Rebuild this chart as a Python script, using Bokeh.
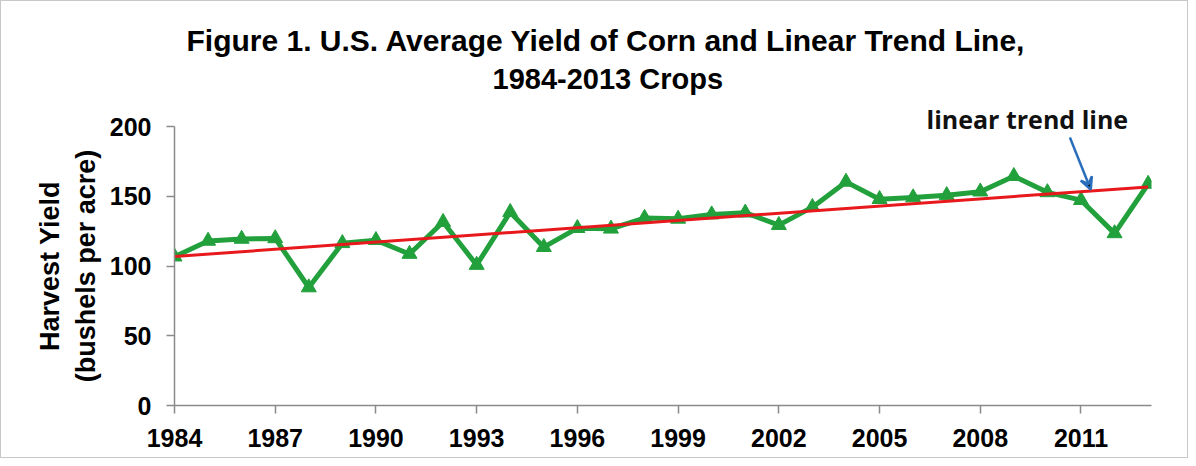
from bokeh.plotting import figure
from bokeh.models import Arrow, VeeHead, Range1d, FixedTicker, Title
from bokeh.embed import file_html
from bokeh.resources import INLINE

years = list(range(1984, 2014))
yields = [106.7, 118.0, 119.4, 119.8, 84.6, 116.3, 118.5, 108.6, 131.5, 100.7,
          138.6, 113.5, 127.1, 126.7, 134.4, 133.8, 136.9, 138.2, 129.3, 142.2,
          160.3, 147.9, 149.1, 150.7, 153.3, 164.4, 152.8, 147.2, 123.4, 158.8]
trend_years = [1984, 2013]
trend_values = [106.8, 156.7]
x_ticks = [1984, 1987, 1990, 1993, 1996, 1999, 2002, 2005, 2008, 2011]
y_ticks = [0, 50, 100, 150, 200]

title_lines = ["Figure 1.  U.S. Average Yield of Corn and Linear  Trend Line,",
               "1984-2013  Crops"]
ylabel_lines = ["Harvest Yield", "(bushels per acre)"]
annot_text = "linear trend line"

GREEN = "#22a03c"
RED = "#e8191c"
BLUE = "#2a6ebb"
AXIS = "#8a8a8a"

p = figure(width=1188, height=458, output_backend="svg", toolbar_location=None,
           x_range=Range1d(1984, 2013.1), y_range=Range1d(0, 200),
           min_border_left=173, min_border_right=38, min_border_top=125,
           min_border_bottom=54)
p.title.visible = False
p.styles = {"border": "1px solid #c8c8c8"}
p.outline_line_color = None
p.grid.visible = False
p.background_fill_color = "white"
p.border_fill_color = "white"

for ax in (p.xaxis[0], p.yaxis[0]):
    ax.axis_line_color = AXIS
    ax.axis_line_width = 1.5
    ax.major_tick_line_color = AXIS
    ax.major_tick_line_width = 1.5
    ax.major_tick_out = 8
    ax.major_tick_in = 0
    ax.minor_tick_line_color = None
    ax.major_label_text_font = "Liberation Sans"
    ax.major_label_text_font_style = "bold"
    ax.major_label_text_font_size = "25px"
    ax.major_label_text_color = "black"

p.xaxis.ticker = FixedTicker(ticks=x_ticks)
p.yaxis.ticker = FixedTicker(ticks=y_ticks)
p.xaxis.major_label_standoff = 15
p.yaxis.major_label_standoff = 15

p.yaxis.axis_label = ylabel_lines[0] + "\n" + ylabel_lines[1]
p.yaxis.axis_label_text_font = "Liberation Sans"
p.yaxis.axis_label_text_font_style = "bold"
p.yaxis.axis_label_text_font_size = "27px"
p.yaxis.axis_label_text_color = "black"
p.yaxis.axis_label_standoff = 6

p.line(years, yields, line_color=GREEN, line_width=5)
p.scatter(years, yields, marker="triangle", size=15, fill_color=GREEN,
          line_color=GREEN)
p.line(trend_years, trend_values, line_color=RED, line_width=3)

# texts above the frame, stacked from the frame outward
p.add_layout(Title(text=annot_text, align="left", offset=752, text_font="Open Sans",
                   text_font_style="bold", text_font_size="25px", text_color="#111111",
                   standoff=-18), "above")
p.add_layout(Title(text=title_lines[1], align="left", offset=318, text_font="Liberation Sans",
                   text_font_style="bold", text_font_size="29px", text_color="black",
                   standoff=27), "above")
p.add_layout(Title(text=title_lines[0], align="left", offset=12, text_font="Liberation Sans",
                   text_font_style="bold", text_font_size="30px", text_color="black",
                   standoff=-19), "above")

p.add_layout(Arrow(x_start=2010.67, y_start=192.1, x_end=2011.29, y_end=154.8,
                   line_color=BLUE, line_width=2.5,
                   end=VeeHead(size=12, line_color=BLUE, line_width=2.5)))

open("out.html", "w").write(file_html(p, INLINE))
